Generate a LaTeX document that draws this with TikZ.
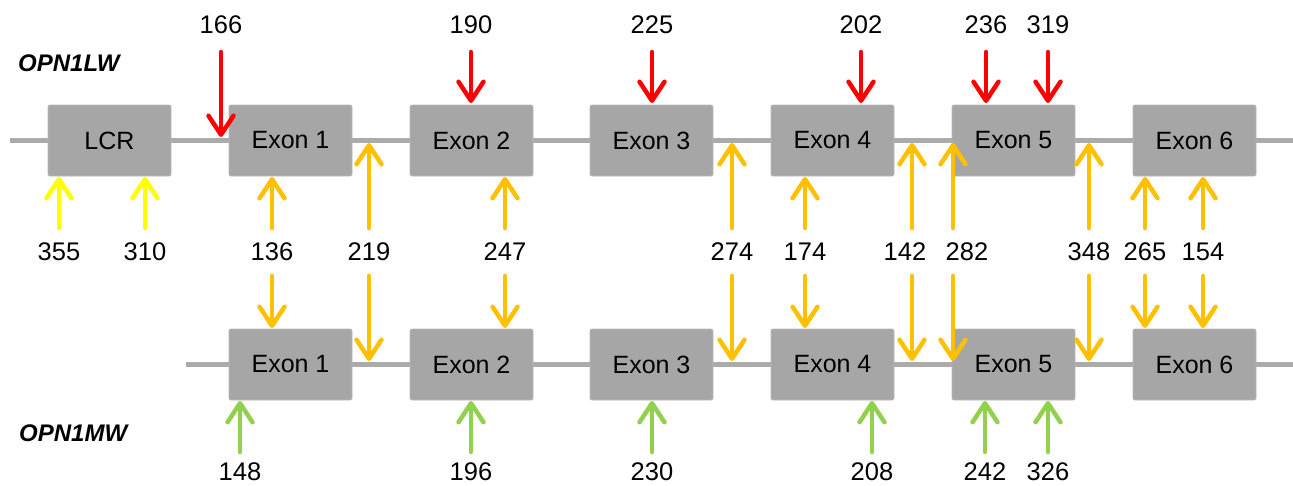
\documentclass[tikz,border=0pt]{standalone}
\usepackage{fontspec}
\setmainfont{Liberation Sans}
\usetikzlibrary{arrows.meta}
\definecolor{boxgray}{HTML}{A6A6A6}
\definecolor{linegray}{HTML}{ABABAB}
\definecolor{cred}{HTML}{FF0000}
\definecolor{cyel}{HTML}{FFFF00}
\definecolor{corg}{HTML}{FFC000}
\definecolor{cgrn}{HTML}{92D050}
\tikzset{
  exonbox/.style={fill=boxgray, draw=boxgray!80!white, line width=0.8pt, rounded corners=2pt,
     minimum width=123pt, minimum height=71pt, inner sep=0pt, font=\fontsize{25}{28}\selectfont},
  gene/.style={draw=linegray, line width=5pt},
  arr/.style={draw=#1, line width=4.5pt, line cap=round,
     -{Straight Barb[length=19pt,width=25pt,line width=4.5pt,round]}},
  lbl/.style={font=\fontsize{25.5}{28}\selectfont, inner sep=0pt},
  genename/.style={font=\fontsize{24}{28}\selectfont\bfseries\itshape, inner sep=0pt, anchor=west},
}
\begin{document}
\begin{tikzpicture}[x=1pt,y=-1pt]
\useasboundingbox (0,0) rectangle (1293,485);
% gene lines
\coordinate (t0) at (10,140);
\coordinate (t1) at (1293,140);
\coordinate (b0) at (186,364);
\coordinate (b1) at (1293,364);
\draw[gene] (t0) -- (t1);
\draw[gene] (b0) -- (b1);
% top boxes
\node[exonbox] (lcr) at (109.5,140.5) {LCR};
\node[exonbox] (te1) at (290.5,140.5) {Exon 1};
\node[exonbox] (te2) at (471.5,140.5) {Exon 2};
\node[exonbox] (te3) at (651.5,140.5) {Exon 3};
\node[exonbox] (te4) at (832.5,140.5) {Exon 4};
\node[exonbox] (te5) at (1013.5,140.5) {Exon 5};
\node[exonbox] (te6) at (1194.5,140.5) {Exon 6};
% bottom boxes
\node[exonbox] (be1) at (290.5,364.5) {Exon 1};
\node[exonbox] (be2) at (471.5,364.5) {Exon 2};
\node[exonbox] (be3) at (651.5,364.5) {Exon 3};
\node[exonbox] (be4) at (832.5,364.5) {Exon 4};
\node[exonbox] (be5) at (1013.5,364.5) {Exon 5};
\node[exonbox] (be6) at (1194.5,364.5) {Exon 6};
% gene names
\node[genename] (lw) at (18,63) {OPN1LW};
\node[genename] (mw) at (19,433) {OPN1MW};
% red arrows (top)
\foreach \x/\t/\e in {221/166/137, 471/190/103, 652/225/103, 861/202/103, 986/236/103, 1048/319/103}{
  \node[lbl] (r\t) at (\x,25) {\t};
  \draw[arr=cred] (\x,52) coordinate (rs\t) -- (\x,\e) coordinate (re\t);
}
% yellow arrows (LCR)
\foreach \x/\t in {59/355, 145/310}{
  \node[lbl] (y\t) at (\x,252) {\t};
  \draw[arr=cyel] (\x,228) coordinate (ys\t) -- (\x,177) coordinate (ye\t);
}
% orange arrows (shared)
\foreach \x/\lx/\t/\eu/\ed in {272/272/136/177/328, 369/369/219/143/361, 505/505/247/177/328,
   732/732/274/143/361, 805/805/174/177/328, 912/905/142/143/361, 953/967/282/143/361,
   1089/1089/348/143/361, 1145/1145/265/177/328, 1203/1203/154/177/328}{
  \node[lbl] (o\t) at (\lx,252) {\t};
  \draw[arr=corg] (\x,228) coordinate (ous\t) -- (\x,\eu) coordinate (oue\t);
  \draw[arr=corg] (\x,276) coordinate (ods\t) -- (\x,\ed) coordinate (ode\t);
}
% green arrows (bottom)
\foreach \x/\t in {240/148, 471/196, 652/230, 872/208, 985/242, 1048/326}{
  \node[lbl] (g\t) at (\x,472) {\t};
  \draw[arr=cgrn] (\x,452) coordinate (gs\t) -- (\x,401) coordinate (ge\t);
}
\end{tikzpicture}
\end{document}
